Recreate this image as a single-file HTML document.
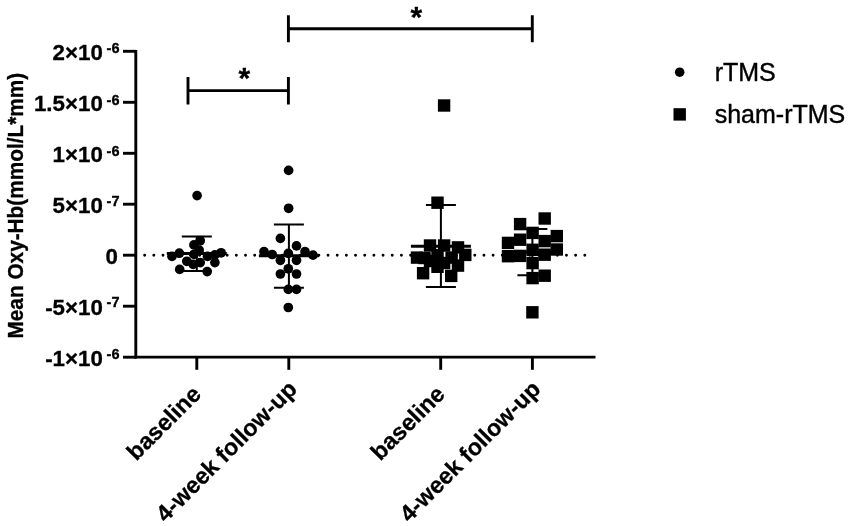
<!DOCTYPE html>
<html><head><meta charset="utf-8"><title>Mean Oxy-Hb</title>
<style>
html,body{margin:0;padding:0;background:#fff;}
svg{display:block}
text{font-family:"Liberation Sans",Arial,sans-serif;fill:#000}
.b{font-weight:bold;stroke:#000;stroke-width:0.3px}
</style></head><body>
<svg width="851" height="526" viewBox="0 0 851 526">
<rect width="851" height="526" fill="#fff"/>

<path d="M135.8 49.9V358.55" stroke="#000" stroke-width="2.9" fill="none"/>
<path d="M134.35 357.1H595.5" stroke="#000" stroke-width="2.9" fill="none"/>
<path d="M123 51.3H136" stroke="#000" stroke-width="2.9"/>
<path d="M123 102.3H136" stroke="#000" stroke-width="2.9"/>
<path d="M123 153.3H136" stroke="#000" stroke-width="2.9"/>
<path d="M123 204.2H136" stroke="#000" stroke-width="2.9"/>
<path d="M123 255.2H136" stroke="#000" stroke-width="2.9"/>
<path d="M123 306.2H136" stroke="#000" stroke-width="2.9"/>
<path d="M123 357.2H136" stroke="#000" stroke-width="2.9"/>
<path d="M196.8 357.1V369.8" stroke="#000" stroke-width="2.9"/>
<path d="M288.8 357.1V369.8" stroke="#000" stroke-width="2.9"/>
<path d="M440.7 357.1V369.8" stroke="#000" stroke-width="2.9"/>
<path d="M532.4 357.1V369.8" stroke="#000" stroke-width="2.9"/>
<path d="M144.65 255.2H586" stroke="#000" stroke-width="2.9" stroke-linecap="round" stroke-dasharray="0 9.17" fill="none"/>
<text class="b" x="102.8" y="60.4" text-anchor="end" font-size="22.3">2×10</text>
<text class="b" x="106.6" y="53.3" font-size="14.5">-6</text>
<text class="b" x="102.8" y="111.4" text-anchor="end" font-size="22.3">1.5×10</text>
<text class="b" x="106.6" y="104.9" font-size="14.5">-6</text>
<text class="b" x="102.8" y="162.4" text-anchor="end" font-size="22.3">1×10</text>
<text class="b" x="106.6" y="155.9" font-size="14.5">-6</text>
<text class="b" x="102.8" y="213.3" text-anchor="end" font-size="22.3">5×10</text>
<text class="b" x="106.6" y="205.7" font-size="14.5">-7</text>
<text class="b" x="118" y="264.3" text-anchor="end" font-size="22.3">0</text>
<text class="b" x="102.8" y="315.3" text-anchor="end" font-size="22.3">-5×10</text>
<text class="b" x="106.6" y="307.4" font-size="14.5">-7</text>
<text class="b" x="102.8" y="366.3" text-anchor="end" font-size="22.3">-1×10</text>
<text class="b" x="106.6" y="359.2" font-size="14.5">-6</text>
<text class="b" font-size="21" text-anchor="middle" transform="translate(22.7 205.7) rotate(-90) scale(0.99 1.09)">Mean Oxy-Hb(mmol/L*mm)</text>
<text class="b" font-size="23.3" text-anchor="end" transform="translate(202.3 395.5) rotate(-45)">baseline</text>
<text class="b" font-size="23.3" text-anchor="end" transform="translate(298.3 390.5) rotate(-45)">4-week follow-up</text>
<text class="b" font-size="23.3" text-anchor="end" transform="translate(446.2 395.5) rotate(-45)">baseline</text>
<text class="b" font-size="23.3" text-anchor="end" transform="translate(541.9 390.5) rotate(-45)">4-week follow-up</text>
<path d="M188 90.6H288.4M188 77.1V104.6M288.4 77.1V104.6" stroke="#000" stroke-width="2.9" fill="none"/>
<path d="M288.4 28.8H532.3M288.4 15.2V42.3M532.3 15.2V42.3" stroke="#000" stroke-width="2.9" fill="none"/>
<text class="b" font-size="30" text-anchor="middle" x="244.3" y="87.9">*</text>
<text class="b" font-size="30" text-anchor="middle" x="416.3" y="26.8">*</text>
<path d="M196.8 236.6V271.1M181.8 236.6H211.8M181.8 271.1H211.8" stroke="#000" stroke-width="2" fill="none"/><path d="M166.8 253.5H226.8" stroke="#000" stroke-width="2.9" fill="none"/>
<path d="M288.9 224.4V287.8M273.9 224.4H303.9M273.9 287.8H303.9" stroke="#000" stroke-width="2" fill="none"/><path d="M258.9 255.8H318.9" stroke="#000" stroke-width="2.9" fill="none"/>
<path d="M440.9 204.9V286.9M425.9 204.9H455.9M425.9 286.9H455.9" stroke="#000" stroke-width="2" fill="none"/><path d="M410.9 246.2H470.9" stroke="#000" stroke-width="2.9" fill="none"/>
<path d="M532.4 229.1V275.2M517.4 229.1H547.4M517.4 275.2H547.4" stroke="#000" stroke-width="2" fill="none"/><path d="M502.4 252H562.4" stroke="#000" stroke-width="2.9" fill="none"/>
<circle cx="197.1" cy="195.6" r="4.85"/>
<circle cx="200.2" cy="240.7" r="4.85"/>
<circle cx="193.9" cy="244.9" r="4.85"/>
<circle cx="199.2" cy="250.1" r="4.85"/>
<circle cx="179.3" cy="253.2" r="4.85"/>
<circle cx="221.1" cy="252.8" r="4.85"/>
<circle cx="172" cy="256.4" r="4.85"/>
<circle cx="194" cy="254.3" r="4.85"/>
<circle cx="207.5" cy="256.4" r="4.85"/>
<circle cx="214.9" cy="254.9" r="4.85"/>
<circle cx="186.8" cy="261.3" r="4.85"/>
<circle cx="214.9" cy="262.6" r="4.85"/>
<circle cx="193.1" cy="264.3" r="4.85"/>
<circle cx="200.2" cy="262.6" r="4.85"/>
<circle cx="179.7" cy="269.4" r="4.85"/>
<circle cx="207.2" cy="271.6" r="4.85"/>
<circle cx="288.6" cy="170.4" r="4.85"/>
<circle cx="288.6" cy="208.3" r="4.85"/>
<circle cx="280.4" cy="238.4" r="4.85"/>
<circle cx="296.5" cy="245.9" r="4.85"/>
<circle cx="264" cy="251.7" r="4.85"/>
<circle cx="305" cy="251.7" r="4.85"/>
<circle cx="272.2" cy="254.5" r="4.85"/>
<circle cx="288.3" cy="253.4" r="4.85"/>
<circle cx="313" cy="255.1" r="4.85"/>
<circle cx="280.4" cy="260.3" r="4.85"/>
<circle cx="296.5" cy="260.3" r="4.85"/>
<circle cx="288.3" cy="268.8" r="4.85"/>
<circle cx="280.4" cy="274" r="4.85"/>
<circle cx="296.5" cy="274" r="4.85"/>
<circle cx="288.3" cy="289.4" r="4.85"/>
<circle cx="296.5" cy="289.4" r="4.85"/>
<circle cx="288.3" cy="307.5" r="4.85"/>
<rect x="437.9" y="99.3" width="12.4" height="12.4"/>
<rect x="431.3" y="196.5" width="12.4" height="12.4"/>
<rect x="423.8" y="239.3" width="12.4" height="12.4"/>
<rect x="437.9" y="239.3" width="12.4" height="12.4"/>
<rect x="451.8" y="241.2" width="12.4" height="12.4"/>
<rect x="459.1" y="248.7" width="12.4" height="12.4"/>
<rect x="410.8" y="251.4" width="12.4" height="12.4"/>
<rect x="418.3" y="251.8" width="12.4" height="12.4"/>
<rect x="431.3" y="249.1" width="12.4" height="12.4"/>
<rect x="445.4" y="251.4" width="12.4" height="12.4"/>
<rect x="423.8" y="254.8" width="12.4" height="12.4"/>
<rect x="437.9" y="256.8" width="12.4" height="12.4"/>
<rect x="451.8" y="259.4" width="12.4" height="12.4"/>
<rect x="431.3" y="260.6" width="12.4" height="12.4"/>
<rect x="416.9" y="267.0" width="12.4" height="12.4"/>
<rect x="445.0" y="269.7" width="12.4" height="12.4"/>
<rect x="538.5" y="212.3" width="12.4" height="12.4"/>
<rect x="513.9" y="217.9" width="12.4" height="12.4"/>
<rect x="526.4" y="226.7" width="12.4" height="12.4"/>
<rect x="550.6" y="229.9" width="12.4" height="12.4"/>
<rect x="501.8" y="236.7" width="12.4" height="12.4"/>
<rect x="513.9" y="233.5" width="12.4" height="12.4"/>
<rect x="538.5" y="234.9" width="12.4" height="12.4"/>
<rect x="526.4" y="243.6" width="12.4" height="12.4"/>
<rect x="550.6" y="243.3" width="12.4" height="12.4"/>
<rect x="501.8" y="250.0" width="12.4" height="12.4"/>
<rect x="513.9" y="249.7" width="12.4" height="12.4"/>
<rect x="538.5" y="248.5" width="12.4" height="12.4"/>
<rect x="526.4" y="256.9" width="12.4" height="12.4"/>
<rect x="538.5" y="269.5" width="12.4" height="12.4"/>
<rect x="526.4" y="271.9" width="12.4" height="12.4"/>
<rect x="526.2" y="306.1" width="12.4" height="12.4"/>
<circle cx="679.7" cy="72.2" r="4.8"/>
<rect x="673.5" y="108.2" width="12.4" height="12.4"/>
<text font-size="25" x="714.7" y="81.1" stroke="#000" stroke-width="0.4">rTMS</text>
<text font-size="25" x="714.7" y="122.9" stroke="#000" stroke-width="0.4">sham-rTMS</text>
</svg></body></html>
